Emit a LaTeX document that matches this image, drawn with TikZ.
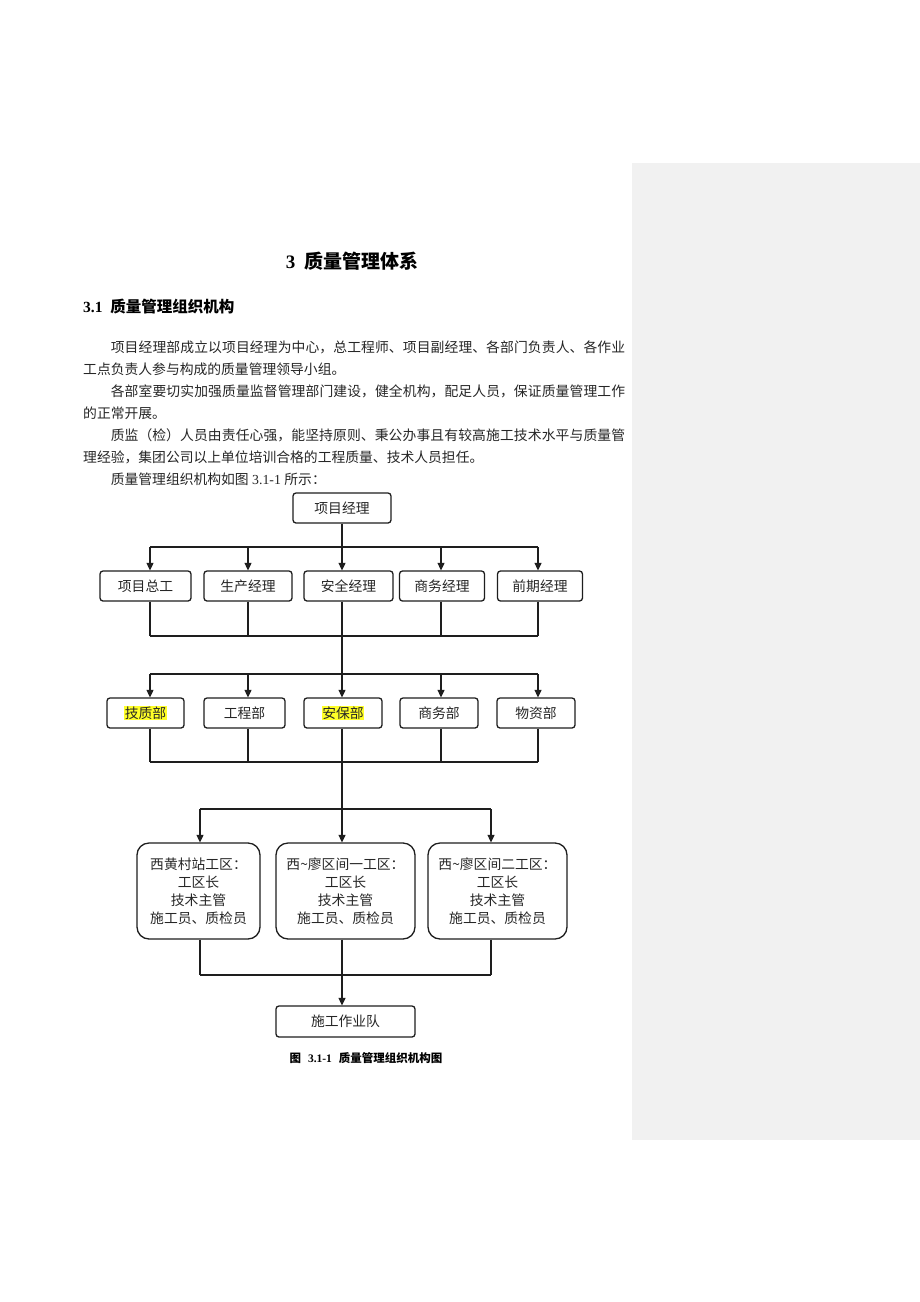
\documentclass[tikz,border=0pt]{standalone}
\usepackage{fontspec}
\setmainfont{Noto Sans CJK SC}
\newfontfamily\tnr{Liberation Serif}
\usetikzlibrary{arrows.meta}
\definecolor{panel}{RGB}{241,241,241}
\definecolor{hl}{RGB}{255,255,40}
\definecolor{lnc}{RGB}{30,30,30}
\XeTeXlinebreaklocale "zh"
\XeTeXlinebreakskip=0pt plus 2pt
\setlength{\fboxsep}{0.5pt}
\begin{document}
\begin{tikzpicture}[x=1pt,y=-1pt,
  box/.style={draw=lnc, line width=1.3pt, rounded corners=3pt, inner sep=0pt, minimum height=30pt,
    font=\fontsize{13.8}{16}\selectfont, text=black!85},
  bigbox/.style={box, rounded corners=12pt, align=center, minimum height=96pt,
    font=\fontsize{13.8}{18}\selectfont},
  conn/.style={draw=lnc, line width=1.3pt},
  arr/.style={conn, -{Triangle[length=7.5pt,width=7pt]}}]
\fill[white] (0,0) rectangle (920,1302);
\useasboundingbox (0,0) rectangle (920,1302);
\fill[panel] (632,163) rectangle (920,1140);

% headings and text
\node[inner sep=0pt, text=black] (h1) at (352,261) {\fontsize{19}{19}\selectfont\bfseries{\tnr 3}\hspace{0.45em}质量管理体系};
\node[inner sep=0pt, anchor=west, text=black] (h2) at (83,307) {\fontsize{15.5}{16}\selectfont\bfseries{\tnr 3.1}\hspace{0.5em}质量管理组织机构};
\node[anchor=north west, inner sep=0pt, text width=542pt, align=justify,
  font=\fontsize{13.8}{21.9}\selectfont, text=black!85] (txt) at (83,341) {%
\hspace*{2em}项目经理部成立以项目经理为中心，总工程师、项目副经理、各部门负责人、各作业工点负责人参与构成的质量管理领导小组。\par
\hspace*{2em}各部室要切实加强质量监督管理部门建设，健全机构，配足人员，保证质量管理工作的正常开展。\par
\hspace*{2em}质监（检）人员由责任心强，能坚持原则、秉公办事且有较高施工技术水平与质量管理经验，集团公司以上单位培训合格的工程质量、技术人员担任。\par
\hspace*{2em}质量管理组织机构如图{\tnr\ 3.1-1 }所示：};

% boxes
\node[box, minimum width=98pt] (pm) at (342,508) {项目经理};
\node[box, minimum width=91pt] (a1) at (145.5,586) {项目总工};
\node[box, minimum width=88pt] (a2) at (248,586) {生产经理};
\node[box, minimum width=89pt] (a3) at (348.5,586) {安全经理};
\node[box, minimum width=85pt] (a4) at (442,586) {商务经理};
\node[box, minimum width=85pt] (a5) at (540,586) {前期经理};

\node[box, minimum width=77pt] (b1) at (145.5,713) {\colorbox{hl}{技质部}};
\node[box, minimum width=81pt] (b2) at (244.5,713) {工程部};
\node[box, minimum width=78pt] (b3) at (343,713) {\colorbox{hl}{安保部}};
\node[box, minimum width=78pt] (b4) at (439,713) {商务部};
\node[box, minimum width=78pt] (b5) at (536,713) {物资部};

\node[bigbox, minimum width=123pt] (c1) at (198.5,891) {西黄村站工区：\\工区长\\技术主管\\施工员、质检员};
\node[bigbox, minimum width=139pt] (c2) at (345.5,891) {西\textasciitilde 廖区间一工区：\\工区长\\技术主管\\施工员、质检员};
\node[bigbox, minimum width=139pt] (c3) at (497.5,891) {西\textasciitilde 廖区间二工区：\\工区长\\技术主管\\施工员、质检员};
\node[box, minimum width=139pt, minimum height=31pt] (d) at (345.5,1021.5) {施工作业队};

\node[inner sep=0pt, text=black] (cap) at (366,1058) {\fontsize{11.5}{12}\selectfont\bfseries 图\hspace{0.6em}{\tnr 3.1-1}\hspace{0.6em}质量管理组织机构图};

% bus coordinates
\coordinate (u1) at (150,547); \coordinate (u2) at (248,547); \coordinate (u3) at (342,547);
\coordinate (u4) at (441,547); \coordinate (u5) at (538,547);
\coordinate (r2) at (0,636); \coordinate (r3) at (0,674); \coordinate (r4) at (0,762);
\coordinate (v1) at (200,809); \coordinate (v2) at (342,809); \coordinate (v3) at (491,809);
\coordinate (r6) at (0,975);

% level 1
\draw[conn] (pm.south -| u3) -- (u3);
\draw[conn] (u1) -- (u5);
\foreach \i in {1,...,5} {\draw[arr] (u\i) -- (u\i |- a\i.north);}
% level 2
\foreach \i in {1,2,4,5} {\draw[conn] (a\i.south -| u\i) -- (u\i |- r2);}
\draw[conn] (u1 |- r2) -- (u5 |- r2);
\draw[conn] (a3.south -| u3) -- (u3 |- r3);
\draw[conn] (u1 |- r3) -- (u5 |- r3);
\foreach \i in {1,...,5} {\draw[arr] (u\i |- r3) -- (u\i |- b\i.north);}
% level 3
\foreach \i in {1,2,4,5} {\draw[conn] (b\i.south -| u\i) -- (u\i |- r4);}
\draw[conn] (u1 |- r4) -- (u5 |- r4);
\draw[conn] (b3.south -| u3) -- (v2);
\draw[conn] (v1) -- (v3);
\foreach \i in {1,2,3} {\draw[arr] (v\i) -- (v\i |- c\i.north);}
% level 4
\foreach \i in {1,2,3} {\draw[conn] (c\i.south -| v\i) -- (v\i |- r6);}
\draw[conn] (v1 |- r6) -- (v3 |- r6);
\draw[arr] (v2 |- r6) -- (v2 |- d.north);
\end{tikzpicture}
\end{document}
